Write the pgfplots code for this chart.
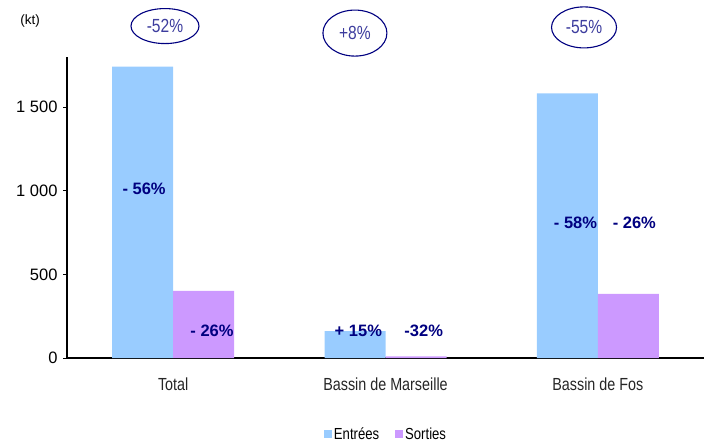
\documentclass[border=0pt]{standalone}
\usepackage{pgfplots}
\pgfplotsset{compat=1.18}
\usepackage{fontspec}
\setmainfont{Liberation Sans}
\newfontfamily\narrow[FakeStretch=0.82]{Liberation Sans}
\usetikzlibrary{shapes.geometric}
\definecolor{entrees}{HTML}{99CCFF}
\definecolor{sorties}{HTML}{CC99FF}
\definecolor{lab}{HTML}{000080}
\definecolor{elltext}{HTML}{3D3D9E}
\begin{document}
\begin{tikzpicture}
\path[use as bounding box] (0,0) rectangle (704bp,443bp);
\begin{axis}[
  at={(67bp,85bp)}, anchor=south west,
  scale only axis, width=637bp, height=301bp,
  xmin=-0.5, xmax=2.5, ymin=0, ymax=1800,
  ybar=0pt, bar width=61bp,
  axis lines=left, axis line style={-, line width=1.3bp, black},
  clip=false,
  xtick={0,1,2},
  xticklabels={Total, Bassin de Marseille, Bassin de Fos},
  xticklabel style={font=\narrow\fontsize{17.5bp}{20bp}\selectfont, text=black!85, yshift=-12bp},
  major x tick style={draw=none},
  extra x ticks={0.5,1.5},
  extra x tick labels={},
  extra x tick style={major tick length=5bp, tick align=outside, major tick style={draw=gray, line width=1bp}},
  ytick={0,500,1000,1500},
  yticklabels={0,500,1 000,1 500},
  yticklabel style={font=\fontsize{16.5bp}{18bp}\selectfont, xshift=-2bp},
  tick align=outside, major tick length=4bp,
  y tick style={line width=1bp, black},
  legend style={at={(0.5008,-0.2525)}, anchor=center, draw=none,
    legend columns=2, font=\narrow\fontsize{16bp}{18bp}\selectfont,
    /tikz/every even column/.append style={column sep=14bp},
    inner sep=0pt},
  legend image code/.code={\fill[#1] (0bp,-4bp) rectangle (8bp,4bp);},
]
\addplot[fill=entrees, draw=none] coordinates {(0,1742) (1,161) (2,1583)};
\addplot[fill=sorties, draw=none] coordinates {(0,401) (1,9) (2,383)};
\legend{Entrées, Sorties}
\begin{scope}[every node/.style={font=\bfseries\fontsize{16.5bp}{18bp}\selectfont, text=lab}]
\node at (axis cs:-0.137,1011) {- 56\%};
\node at (axis cs:0.183,164) {- 26\%};
\node at (axis cs:0.872,160) {+ 15\%};
\node at (axis cs:1.180,160) {-32\%};
\node at (axis cs:1.895,806) {- 58\%};
\node at (axis cs:2.172,806) {- 26\%};
\end{scope}
\begin{scope}[every node/.style={ellipse, draw=lab, line width=1.1bp, inner sep=0pt, text=elltext, font=\narrow\fontsize{19bp}{21bp}\selectfont}]
\node[minimum width=68bp, minimum height=35bp] at (axis cs:-0.0385,1985) {\raisebox{-2bp}{-52\%}};
\node[minimum width=64bp, minimum height=46bp] at (axis cs:0.856,1943) {+8\%};
\node[minimum width=65bp, minimum height=41bp] at (axis cs:1.935,1977) {-55\%};
\end{scope}
\node[font=\fontsize{13.5bp}{15bp}\selectfont] at (axis cs:-0.674,2015) {(kt)};
\end{axis}
\end{tikzpicture}
\end{document}
